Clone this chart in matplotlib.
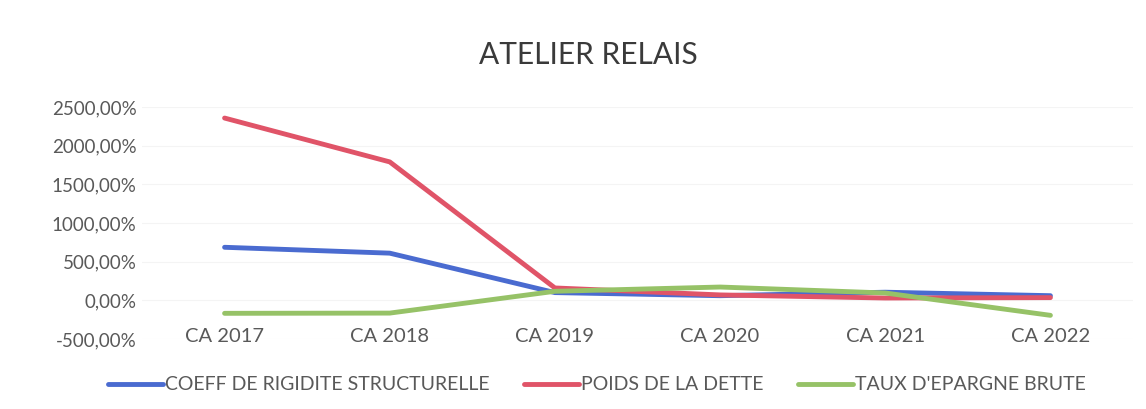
import matplotlib.pyplot as plt

plt.rcParams['font.family'] = ['Lato', 'DejaVu Sans']

# données
annees = ['CA 2017', 'CA 2018', 'CA 2019', 'CA 2020', 'CA 2021', 'CA 2022']
coeff_rigidite = [686, 610, 100, 60, 105, 60]
poids_dette = [2357, 1790, 160, 70, 30, 35]
taux_epargne = [-168, -165, 117, 172, 95, -194]

series = ['COEFF DE RIGIDITE STRUCTURELLE', 'POIDS DE LA DETTE', "TAUX D'EPARGNE BRUTE"]
couleurs = ['#4a6bd0', '#e05468', '#96c267']

fig = plt.figure(figsize=(11.46, 4.09), dpi=100)
ax = fig.add_axes([142 / 1146, 70 / 409, (1133 - 142) / 1146, (339 - 107) / 409])

x = range(len(annees))
for vals, nom, c in zip([coeff_rigidite, poids_dette, taux_epargne], series, couleurs):
    ax.plot(x, vals, color=c, lw=3.5, label=nom, solid_capstyle='round', solid_joinstyle='round')

ax.set_xlim(-0.5, len(annees) - 0.5)
ax.set_ylim(-500, 2500)
ax.set_yticks(range(-500, 2501, 500))
ax.set_yticklabels([f'{v},00%' for v in range(-500, 2501, 500)])
ax.set_xticks(list(x))
ax.set_xticklabels(annees)

# l'axe des catégories croise à 0
ax.spines['bottom'].set_position(('data', 0))
for s in ['top', 'right', 'left', 'bottom']:
    ax.spines[s].set_visible(False)
ax.tick_params(axis='both', length=0, labelsize=14.5, colors='#595959')
ax.tick_params(axis='y', labelsize=13.5, pad=4)
ax.tick_params(axis='x', pad=20)
ax.grid(axis='y', color='#f4f4f4', lw=0.8)

fig.text(0.5 + 15 / 1146, 1 - 55 / 409, 'ATELIER RELAIS', ha='center', va='center', fontsize=21.5, color='#3a3a3a')

fig.legend(loc='center', bbox_to_anchor=(0.521, 1 - 385 / 409), ncol=3, frameon=False,
           fontsize=14, handlelength=2.8, handletextpad=0.1, columnspacing=1.8, labelcolor='#595959')

fig.savefig('out.png', dpi=100)
